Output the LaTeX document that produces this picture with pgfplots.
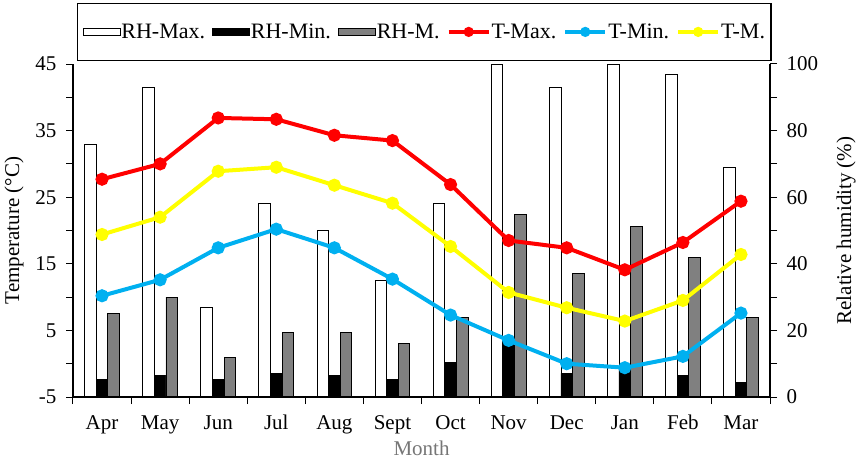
\documentclass[border=0pt]{standalone}
\usepackage{fontspec}
\setmainfont{Liberation Serif}
\usepackage{pgfplots}
\pgfplotsset{compat=1.18}
\definecolor{tred}{RGB}{255,0,0}
\definecolor{tblue}{RGB}{0,176,240}
\definecolor{tyellow}{RGB}{255,255,0}
\definecolor{rhgray}{RGB}{128,128,128}
\definecolor{mgray}{RGB}{118,118,118}
\newcommand{\fsz}{\fontsize{21}{25}\selectfont}
\newcommand{\lfsz}{\fontsize{22}{26}\selectfont}
\newcommand{\lpad}{\path[draw=none,fill=none] (0pt,-26.5pt) rectangle (0pt,26.5pt);}
\begin{document}
\begin{tikzpicture}
\useasboundingbox (-73pt,-63pt) rectangle (785pt,397pt);
% ---------- RH bars (right axis) ----------
\begin{axis}[
  scale only axis, width=697pt, height=333pt,
  xmin=-0.5, xmax=11.5, ymin=0, ymax=100,
  axis x line=none,
  axis y line*=right,
  axis line style={line width=1.2pt, -},
  ytick={0,20,...,100},
  yticklabels={0,20,40,60,80,100},
  minor ytick={10,30,...,90},
  tick align=outside,
  major tick length=7pt, minor tick length=7pt,
  every tick/.style={black, line width=1pt},
  tick label style={font=\fsz},
  yticklabel style={anchor=west, xshift=6pt},
  ylabel={Relative humidity (\%)},
  every axis y label/.style={at={(axis description cs:1.109,0.5)}, rotate=90, anchor=center, font=\fsz},
  ybar, bar width=0.2,
  clip=false,
]
\addplot[ybar, bar shift=-0.2, fill=white, draw=black, line width=0.8pt] coordinates {
(0,76) (1,93) (2,27) (3,58) (4,50) (5,35) (6,58) (7,100) (8,93) (9,100) (10,97) (11,69)};
\addplot[ybar, bar shift=0, fill=black, draw=black, line width=0.8pt] coordinates {
(0,5.3) (1,6.4) (2,5.3) (3,7.1) (4,6.4) (5,5.3) (6,10.4) (7,17) (8,7.1) (9,8.7) (10,6.4) (11,4.3)};
\addplot[ybar, bar shift=0.2, fill=rhgray, draw=black, line width=0.8pt] coordinates {
(0,25) (1,30) (2,12) (3,19.4) (4,19.4) (5,16) (6,24) (7,54.7) (8,37.2) (9,51.3) (10,42) (11,24)};
\end{axis}
% ---------- Temperature lines (left axis) ----------
\begin{axis}[
  scale only axis, width=697pt, height=333pt,
  xmin=-0.5, xmax=11.5, ymin=-5, ymax=45,
  axis x line*=bottom,
  axis y line*=left,
  axis line style={line width=1.2pt, -},
  xtick={-0.5,0.5,...,11.5},
  xticklabels={},
  extra x ticks={0,1,...,11},
  extra x tick labels={Apr,May,Jun,Jul,Aug,Sept,Oct,Nov,Dec,Jan,Feb,Mar},
  extra x tick style={major tick length=0pt, tick label style={anchor=base, yshift=-32pt, inner sep=0pt}},
  ytick={-5,5,...,45},
  yticklabels={-5,5,15,25,35,45},
  minor ytick={0,10,...,40},
  tick align=outside,
  major tick length=7pt, minor tick length=7pt,
  every tick/.style={black, line width=1pt},
  tick label style={font=\fsz},
  yticklabel style={anchor=east, xshift=-6pt},
  xlabel={Month},
  every axis x label/.style={at={(axis description cs:0.5,0)}, anchor=base, yshift=-58pt, font=\fsz, text=mgray},
  ylabel={Temperature (°C)},
  every axis y label/.style={at={(axis description cs:-0.0846,0.5)}, rotate=90, anchor=center, font=\fsz},
  clip=false,
  legend columns=6,
  legend style={at={(axis description cs:0.0057,1.009)}, anchor=south west,
    draw=black, line width=1.2pt, font=\lfsz,
    inner xsep=5pt,
    nodes={inner sep=1pt},
    /tikz/every even column/.append style={column sep=6pt}},
]
\addlegendimage{legend image code/.code={\lpad\draw[fill=white,draw=black,line width=0.8pt] (0pt,-3.5pt) rectangle (37pt,3.5pt);}}
\addlegendentry{RH-Max.}
\addlegendimage{legend image code/.code={\lpad\draw[fill=black,draw=black,line width=0.8pt] (0pt,-3.5pt) rectangle (37pt,3.5pt);}}
\addlegendentry{RH-Min.}
\addlegendimage{legend image code/.code={\lpad\draw[fill=rhgray,draw=black,line width=0.8pt] (0pt,-3.5pt) rectangle (37pt,3.5pt);}}
\addlegendentry{RH-M.}
\pgfplotsset{every axis plot/.append style={
  legend image code/.code={\lpad\draw[##1, mark repeat=2, mark phase=2, mark size=3pt] plot coordinates {(0pt,0pt) (20pt,0pt) (40pt,0pt)};}}}
\addplot[color=tred, line width=4pt, mark=*, mark size=4.5pt, mark options={solid, fill=tred, draw=tred}] coordinates {
(0,27.7) (1,30.0) (2,36.9) (3,36.7) (4,34.3) (5,33.5) (6,26.9) (7,18.5) (8,17.4) (9,14.1) (10,18.2) (11,24.4)};
\addlegendentry{T-Max.}
\addplot[color=tblue, line width=4pt, mark=*, mark size=4.5pt, mark options={solid, fill=tblue, draw=tblue}] coordinates {
(0,10.2) (1,12.6) (2,17.4) (3,20.2) (4,17.4) (5,12.7) (6,7.3) (7,3.5) (8,0.0) (9,-0.6) (10,1.1) (11,7.6)};
\addlegendentry{T-Min.}
\addplot[color=tyellow, line width=4pt, mark=*, mark size=4.5pt, mark options={solid, fill=tyellow, draw=tyellow}] coordinates {
(0,19.4) (1,22.0) (2,28.9) (3,29.5) (4,26.8) (5,24.1) (6,17.6) (7,10.7) (8,8.4) (9,6.4) (10,9.5) (11,16.4)};
\addlegendentry{T-M.}
\end{axis}
\end{tikzpicture}
\end{document}
